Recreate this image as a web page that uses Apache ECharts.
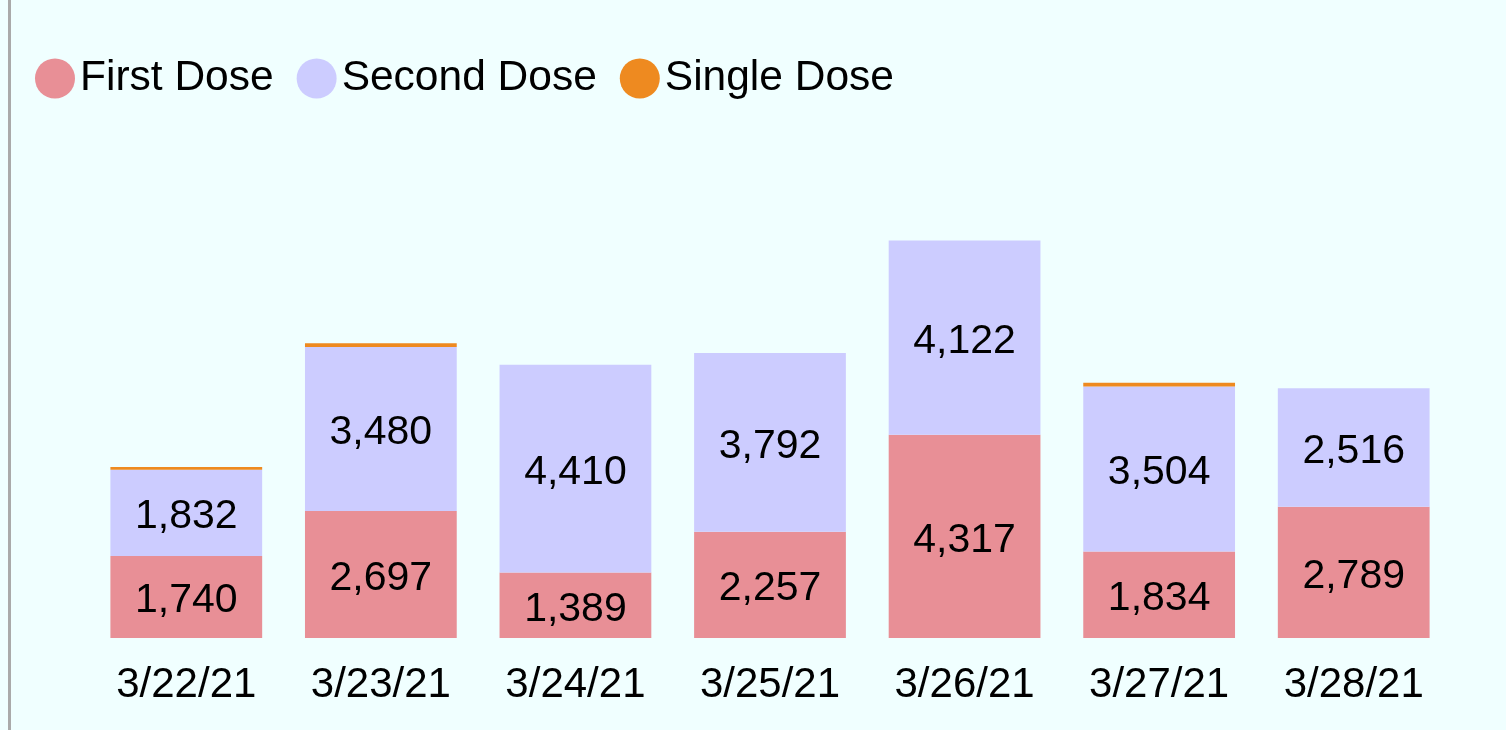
<!DOCTYPE html>
<html>
<head>
<meta charset="utf-8">
<script src="https://cdn.jsdelivr.net/npm/echarts@6/dist/echarts.min.js"></script>
<style>
  html, body { margin: 0; padding: 0; background: #f0ffff; }
  #chart { width: 1506px; height: 730px; }
</style>
</head>
<body>
<div id="chart"></div>
<script>
const dates = ['3/22/21', '3/23/21', '3/24/21', '3/25/21', '3/26/21', '3/27/21', '3/28/21'];
const firstDose = [1740, 2697, 1389, 2257, 4317, 1834, 2789];
const secondDose = [1832, 3480, 4410, 3792, 4122, 3504, 2516];
const singleDose = [60, 80, 0, 0, 0, 80, 0];

const chart = echarts.init(document.getElementById('chart'));

const labelStyle = {
  show: true,
  position: 'inside',
  offset: [0, 4],
  color: '#000',
  fontSize: 41,
  fontFamily: 'Liberation Sans, Arial, sans-serif',
  formatter: p => p.value.toLocaleString('en-US')
};

chart.setOption({
  backgroundColor: '#f0ffff',
  textStyle: { fontFamily: 'Liberation Sans, Arial, sans-serif' },
  graphic: [{
    type: 'rect',
    shape: { x: 8, y: 0, width: 3, height: 730 },
    style: { fill: '#aaaaaa' }
  }],
  legend: {
    left: 30,
    top: 52,
    icon: 'circle',
    itemWidth: 40,
    itemHeight: 40,
    itemGap: 23,
    textStyle: { fontSize: 42.5, color: '#000' },
    data: ['First Dose', 'Second Dose', 'Single Dose']
  },
  grid: {
    left: 89,
    right: 55,
    top: 167,
    bottom: 92
  },
  xAxis: {
    type: 'category',
    data: dates,
    axisLine: { show: false },
    axisTick: { show: false },
    axisLabel: {
      color: '#000',
      fontSize: 42,
      margin: 26
    }
  },
  yAxis: {
    type: 'value',
    min: 0,
    max: 10000,
    show: false,
    splitLine: { show: false }
  },
  series: [
    {
      name: 'First Dose',
      type: 'bar',
      stack: 'dose',
      barWidth: '78%',
      itemStyle: { color: '#e88f96' },
      label: labelStyle,
      data: firstDose
    },
    {
      name: 'Second Dose',
      type: 'bar',
      stack: 'dose',
      itemStyle: { color: '#ccccff' },
      label: labelStyle,
      data: secondDose
    },
    {
      name: 'Single Dose',
      type: 'bar',
      stack: 'dose',
      itemStyle: { color: '#ee8a20' },
      label: { show: false },
      data: singleDose
    }
  ]
});
</script>
</body>
</html>
